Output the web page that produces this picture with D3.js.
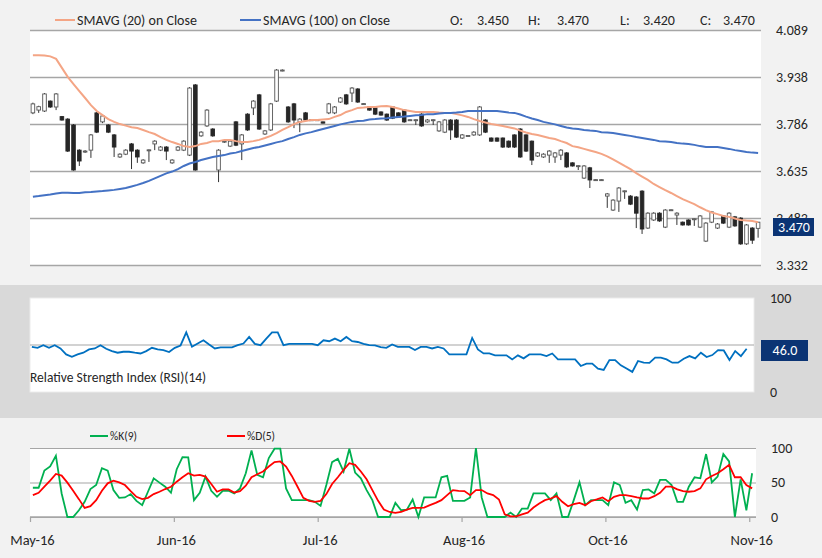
<!DOCTYPE html>
<html><head><meta charset="utf-8">
<script src="https://cdn.jsdelivr.net/npm/d3@7"></script>
<style>body{margin:0;background:#f2f2f2;} svg{display:block;font-family:Carlito,Calibri,Lato,sans-serif;}</style>
</head><body><svg id="c" width="822" height="558"></svg>
<script>
// ---------- DATA ----------
const open  = [3.822,3.831,3.828,3.860,3.841,3.810,3.802,3.783,3.702,3.696,3.702,3.822,3.793,3.783,3.751,3.680,3.689,3.722,3.702,3.661,
3.702,3.722,3.702,3.712,3.661,3.702,3.702,3.686,3.912,3.748,3.780,3.770,3.638,3.728,3.715,3.793,3.722,3.818,3.838,3.880,
3.754,3.767,3.860,3.958,3.841,3.851,3.793,3.822,3.799,3.799,3.793,3.822,3.822,3.857,3.880,3.886,3.899,3.851,3.841,3.838,
3.825,3.818,3.841,3.822,3.831,3.799,3.799,3.818,3.793,3.799,3.764,3.760,3.799,3.799,3.741,3.748,3.751,3.751,3.799,3.741,
3.741,3.741,3.731,3.751,3.770,3.751,3.731,3.683,3.680,3.686,3.680,3.686,3.693,3.661,3.651,3.612,3.645,3.606,3.606,3.554,
3.509,3.538,3.570,3.554,3.551,3.570,3.451,3.477,3.499,3.454,3.509,3.493,3.470,3.477,3.480,3.454,3.409,3.470,3.451,3.490,
3.454,3.487,3.483,3.400,3.451,3.450];
const high  = [3.855,3.845,3.886,3.862,3.886,3.812,3.805,3.786,3.705,3.702,3.754,3.825,3.815,3.786,3.754,3.692,3.705,3.725,3.705,3.673,
3.704,3.734,3.715,3.715,3.673,3.715,3.734,3.905,3.915,3.763,3.834,3.773,3.705,3.734,3.734,3.796,3.754,3.821,3.863,3.883,
3.767,3.854,3.963,3.962,3.844,3.854,3.805,3.825,3.801,3.801,3.794,3.854,3.844,3.873,3.883,3.905,3.902,3.853,3.843,3.840,
3.827,3.820,3.844,3.824,3.834,3.801,3.801,3.821,3.802,3.801,3.796,3.802,3.802,3.802,3.754,3.750,3.763,3.844,3.802,3.743,
3.743,3.743,3.733,3.753,3.773,3.753,3.733,3.696,3.692,3.702,3.696,3.705,3.696,3.663,3.653,3.654,3.648,3.608,3.608,3.564,
3.544,3.583,3.572,3.557,3.554,3.573,3.502,3.502,3.502,3.512,3.511,3.502,3.472,3.479,3.482,3.493,3.470,3.506,3.467,3.493,
3.502,3.490,3.486,3.464,3.454,3.470];
const low   = [3.818,3.822,3.825,3.838,3.831,3.797,3.696,3.636,3.651,3.693,3.677,3.757,3.789,3.757,3.680,3.677,3.686,3.641,3.661,3.658,
3.664,3.702,3.699,3.670,3.658,3.699,3.699,3.683,3.636,3.745,3.777,3.745,3.599,3.725,3.712,3.715,3.670,3.764,3.815,3.767,
3.751,3.764,3.857,3.956,3.790,3.773,3.760,3.796,3.798,3.798,3.788,3.818,3.818,3.854,3.848,3.857,3.854,3.850,3.829,3.815,
3.813,3.796,3.802,3.806,3.790,3.797,3.783,3.777,3.790,3.783,3.761,3.757,3.735,3.741,3.738,3.747,3.748,3.748,3.757,3.729,
3.729,3.709,3.709,3.709,3.677,3.696,3.654,3.680,3.677,3.661,3.661,3.670,3.645,3.649,3.638,3.609,3.580,3.604,3.604,3.516,
3.506,3.503,3.545,3.525,3.451,3.432,3.448,3.474,3.471,3.451,3.507,3.461,3.459,3.459,3.458,3.451,3.406,3.467,3.448,3.464,
3.451,3.455,3.397,3.397,3.400,3.420];
const close = [3.851,3.842,3.883,3.841,3.883,3.799,3.699,3.638,3.667,3.699,3.751,3.760,3.812,3.760,3.712,3.689,3.702,3.699,3.680,3.670,
3.703,3.731,3.712,3.699,3.670,3.712,3.731,3.902,3.638,3.760,3.831,3.748,3.702,3.731,3.731,3.718,3.751,3.767,3.860,3.770,
3.764,3.851,3.960,3.960,3.793,3.799,3.802,3.799,3.800,3.800,3.789,3.851,3.841,3.870,3.851,3.902,3.857,3.852,3.831,3.818,
3.815,3.799,3.805,3.809,3.793,3.800,3.800,3.780,3.799,3.800,3.793,3.799,3.767,3.744,3.751,3.749,3.760,3.841,3.760,3.731,
3.731,3.712,3.712,3.712,3.680,3.699,3.670,3.693,3.689,3.699,3.693,3.702,3.648,3.651,3.652,3.651,3.606,3.607,3.607,3.561,
3.541,3.580,3.571,3.528,3.499,3.448,3.499,3.499,3.474,3.509,3.510,3.499,3.461,3.461,3.481,3.490,3.467,3.503,3.464,3.467,
3.499,3.458,3.400,3.461,3.412,3.470];
const sma20 = [4.008,4.008,4.007,4.004,3.996,3.967,3.938,3.915,3.892,3.870,3.847,3.828,3.815,3.802,3.793,3.786,3.781,3.776,3.773,3.767,
3.760,3.754,3.744,3.735,3.728,3.722,3.715,3.712,3.715,3.722,3.725,3.731,3.731,3.735,3.735,3.731,3.728,3.728,3.731,3.735,
3.741,3.748,3.757,3.767,3.776,3.786,3.793,3.796,3.799,3.799,3.801,3.802,3.809,3.815,3.825,3.831,3.838,3.839,3.841,3.841,
3.843,3.844,3.841,3.836,3.831,3.828,3.825,3.825,3.825,3.825,3.823,3.822,3.822,3.818,3.814,3.809,3.802,3.796,3.791,3.786,
3.783,3.780,3.776,3.772,3.765,3.759,3.754,3.751,3.746,3.741,3.738,3.731,3.725,3.715,3.711,3.706,3.701,3.696,3.690,3.682,
3.672,3.662,3.651,3.641,3.628,3.617,3.606,3.593,3.583,3.573,3.564,3.554,3.544,3.536,3.528,3.518,3.509,3.501,3.496,3.490,
3.487,3.482,3.477,3.475,3.474,3.470];
const sma100 = [3.552,3.554,3.557,3.559,3.562,3.565,3.565,3.564,3.564,3.566,3.567,3.569,3.570,3.572,3.574,3.577,3.580,3.585,3.590,3.596,
3.603,3.611,3.619,3.627,3.633,3.641,3.651,3.659,3.664,3.670,3.675,3.680,3.683,3.686,3.691,3.694,3.699,3.704,3.709,3.712,
3.717,3.722,3.727,3.731,3.738,3.744,3.751,3.756,3.760,3.765,3.770,3.775,3.780,3.785,3.789,3.793,3.796,3.797,3.801,3.802,
3.804,3.805,3.807,3.809,3.810,3.812,3.814,3.815,3.818,3.818,3.820,3.822,3.822,3.823,3.825,3.828,3.828,3.828,3.828,3.828,
3.828,3.826,3.823,3.822,3.817,3.810,3.804,3.799,3.793,3.789,3.785,3.780,3.775,3.772,3.770,3.767,3.765,3.764,3.760,3.759,
3.757,3.754,3.751,3.748,3.744,3.741,3.738,3.735,3.731,3.730,3.728,3.725,3.723,3.722,3.719,3.715,3.712,3.712,3.712,3.709,
3.706,3.702,3.699,3.696,3.694,3.693];
const rsi = [48.1,47.0,49.8,47.0,49.8,46.3,40.0,37.5,40.0,41.8,45.3,46.3,49.8,46.0,43.5,41.8,42.8,42.8,41.8,41.0,
43.5,47.0,45.3,44.6,42.5,47.0,49.5,63.5,48.1,51.6,55.0,50.5,46.3,47.4,47.4,47.4,49.8,51.6,58.6,51.2,
49.8,56.8,63.5,63.5,49.8,51.2,51.2,51.2,51.2,51.2,49.8,55.0,54.0,56.8,54.0,58.6,54.0,53.2,51.2,49.8,
49.5,47.7,47.0,50.5,48.0,48.0,48.0,44.6,48.0,48.0,46.3,48.0,46.3,40.0,40.0,40.0,40.0,57.5,45.3,41.0,
41.0,39.0,39.0,39.0,34.7,39.0,35.8,40.0,40.0,40.0,38.2,41.0,34.7,34.7,34.7,34.7,27.7,30.2,30.2,24.9,
23.5,34.0,34.0,28.4,24.9,21.4,33.0,31.2,31.0,36.5,36.5,34.7,31.2,31.2,35.4,38.2,35.8,41.8,37.2,39.3,
44.6,44.2,34.0,43.5,38.2,46.0];
const stochK = [42.4,42.4,67.3,73.2,88.8,34.1,0,0,9.8,22.0,40.5,46.3,70.7,67.3,39.0,27.8,28.3,33.2,23.4,17.1,
36.6,56.1,49.8,43.9,35.1,69.3,86.8,86.3,24.4,35.1,58.5,38.0,29.3,38.0,38.0,34.1,41.5,63.4,96.6,61.0,
57.6,85.4,99.0,99.0,41.5,24.4,24.4,24.4,24.4,22.0,16.1,46.3,79.5,84.4,65.9,99.0,64.4,56.1,39.0,24.4,
0,0,0,20.5,9.8,10.7,25.4,0,28.3,28.3,28.3,57.6,59.5,23.4,23.4,23.4,28.3,100,28.3,0,
0,0,0,6.3,0,12.2,12.2,34.1,34.1,34.1,24.4,34.1,0,0,24.4,50.2,17.1,24.4,24.4,24.4,
17.1,50.2,46.3,20.5,24.4,10.7,39.0,40.0,34.1,53.7,53.7,46.3,22.0,22.0,43.9,57.6,56.1,91.2,50.2,58.5,
91.2,80.5,0,54.6,9.8,63.4];
const stochD = [31.7,35.1,43.9,52.7,62.4,60.0,49.8,38.0,25.9,13.2,15.6,24.4,38.0,48.8,52.7,50.2,46.3,37.6,29.3,25.9,
27.8,33.2,36.6,40.5,43.9,51.2,57.6,63.4,60.0,61.0,58.5,47.8,36.6,40.0,40.0,35.6,37.6,45.4,57.6,62.0,
65.9,73.2,79.5,80.5,73.2,59.5,43.9,27.8,23.4,22.0,23.4,33.2,47.8,57.6,68.3,78.0,75.6,65.9,54.6,39.0,
23.4,10.7,7.3,5.9,7.3,10.7,13.2,13.2,13.7,17.1,20.5,24.4,31.7,39.0,38.0,37.6,31.7,39.0,39.0,34.1,
31.7,25.4,3.9,1.0,1.0,3.9,6.3,13.7,19.5,24.4,26.8,30.2,22.0,15.6,18.5,20.5,17.1,22.9,25.4,28.3,
22.9,29.3,31.7,31.7,30.2,28.3,26.8,26.8,30.2,35.1,43.9,43.9,40.0,37.6,36.6,37.6,41.5,54.6,59.5,63.4,
69.3,75.6,57.6,57.6,46.3,41.5];
const priceTicks = [3.332,3.483,3.635,3.786,3.938,4.089];
const rsiTicks = [0,100];
const stochTicks = [0,50,100];
const xTickIndex = [0,25,50,75,100,125];
const xTickLabels = ["May-16","Jun-16","Jul-16","Aug-16","Oct-16","Nov-16"];
const lastOHLC = {O:"3.450",H:"3.470",L:"3.420",C:"3.470"};
const lastRSI = "46.0";

// ---------- DRAW ----------
const n = close.length;
const idx = d3.range(n);
const svg = d3.select('#c');
const txt = '#262626', grid = '#a6a6a6', navy = '#0b3474';
const FF = 'Carlito,Calibri,Lato,sans-serif';
svg.append('rect').attr('width',822).attr('height',558).attr('fill','#f2f2f2');
const defs = svg.append('defs');
// clip in the local space of the tick label (origin = tick position)
defs.append('clipPath').attr('id','tagclip').append('rect').attr('x',-20).attr('y',-40).attr('width',80).attr('height',40);

// ===== price panel =====
const xP = d3.scaleLinear().domain([0,n]).range([30,761]);
const yP = d3.scaleLinear().domain([3.332,4.089]).range([265,30]);
svg.append('rect').attr('x',30).attr('y',30).attr('width',731).attr('height',235).attr('fill','#fff');
const ay = svg.append('g').attr('transform','translate(761,0)')
  .call(d3.axisRight(yP).tickValues(priceTicks).tickFormat(d3.format('.3f')).tickSize(-731).tickPadding(15));
ay.select('.domain').remove();
ay.selectAll('line').attr('stroke',grid).attr('stroke-width',1.5);
ay.selectAll('text').attr('fill',txt).attr('font-size',14).attr('font-family',FF);
// the label partly hidden behind the last-price tag, as in the reference
ay.selectAll('.tick').filter(d=>d===3.483).select('text').attr('clip-path','url(#tagclip)');

const bw = 3.6;
const cg = svg.append('g');
idx.forEach(i=>{
  const cx = xP(i+0.5);
  const up = close[i] >= open[i];
  cg.append('line').attr('x1',cx).attr('x2',cx).attr('y1',yP(high[i])).attr('y2',yP(low[i]))
    .attr('stroke','#333').attr('stroke-width',1);
  const y1 = yP(Math.max(open[i],close[i])), y2 = yP(Math.min(open[i],close[i]));
  cg.append('rect').attr('x',cx-bw/2).attr('y',y1).attr('width',bw).attr('height',Math.max(1,y2-y1))
    .attr('fill', up ? '#fff' : '#262626').attr('stroke', up ? '#555' : '#262626').attr('stroke-width',0.9);
});
const lineP = arr => d3.line().x((d,i)=>xP(i+0.5)).y(d=>yP(d))(arr);
svg.append('path').attr('d',lineP(sma20)).attr('fill','none').attr('stroke','#f4a585').attr('stroke-width',2);
svg.append('path').attr('d',lineP(sma100)).attr('fill','none').attr('stroke','#4472c4').attr('stroke-width',2);

// price tag
svg.append('rect').attr('x',773).attr('y',218).attr('width',41).attr('height',18).attr('fill',navy);
svg.append('text').attr('x',794).attr('y',227).attr('dy','0.35em').attr('text-anchor','middle')
  .attr('fill','#fff').attr('font-size',14).text(close[n-1].toFixed(3));

// legend
const lg = svg.append('g').attr('font-size',14).attr('fill',txt);
lg.append('line').attr('x1',55).attr('x2',75).attr('y1',20).attr('y2',20).attr('stroke','#f4a585').attr('stroke-width',2);
lg.append('text').attr('x',77).attr('y',20).attr('dy','0.35em').text('SMAVG (20) on Close');
lg.append('line').attr('x1',240).attr('x2',261).attr('y1',20).attr('y2',20).attr('stroke','#4472c4').attr('stroke-width',2);
lg.append('text').attr('x',263).attr('y',20).attr('dy','0.35em').text('SMAVG (100) on Close');
[['O:',450,lastOHLC.O,477],['H:',528,lastOHLC.H,557],['L:',620,lastOHLC.L,643],['C:',700,lastOHLC.C,723]].forEach(d=>{
  lg.append('text').attr('x',d[1]).attr('y',20).attr('dy','0.35em').text(d[0]);
  lg.append('text').attr('x',d[3]).attr('y',20).attr('dy','0.35em').text(d[2]);
});

// ===== RSI panel =====
svg.append('rect').attr('x',0).attr('y',285).attr('width',822).attr('height',133).attr('fill','#d9d9d9');
svg.append('rect').attr('x',30).attr('y',298).attr('width',724).attr('height',94).attr('fill','#fff').attr('stroke','#ececec');
const xR = d3.scaleLinear().domain([0,n]).range([29,749.5]);
const yR = d3.scaleLinear().domain([0,100]).range([392,298]);
svg.append('line').attr('x1',30).attr('x2',754).attr('y1',yR(50)).attr('y2',yR(50)).attr('stroke',grid).attr('stroke-width',1.2);
svg.append('path').attr('d',d3.line().x((d,i)=>xR(i+0.5)).y(d=>yR(d))(rsi)).attr('fill','none').attr('stroke','#0070c0').attr('stroke-width',1.8);
const ar = svg.append('g').attr('transform','translate(754,0)').call(d3.axisRight(yR).tickValues(rsiTicks).tickSize(0).tickPadding(16));
ar.select('.domain').remove();
ar.selectAll('text').attr('fill',txt).attr('font-size',14).attr('font-family',FF);
svg.append('rect').attr('x',761).attr('y',340).attr('width',47).attr('height',21).attr('fill',navy);
svg.append('text').attr('x',785).attr('y',350.5).attr('dy','0.35em').attr('text-anchor','middle').attr('fill','#fff').attr('font-size',14).text(lastRSI);
svg.append('text').attr('x',30).attr('y',377).attr('dy','0.35em').attr('fill',txt).attr('font-size',13.5).text('Relative Strength Index (RSI)(14)');

// ===== Stochastic panel =====
const xS = d3.scaleLinear().domain([0,n]).range([30,755]);
const yS = d3.scaleLinear().domain([0,100]).range([517,448]);
svg.append('rect').attr('x',30).attr('y',448).attr('width',726).attr('height',69).attr('fill','#fff');
const as = svg.append('g').attr('transform','translate(756,0)')
  .call(d3.axisRight(yS).tickValues(stochTicks).tickSize(-726).tickPadding(15));
as.select('.domain').remove();
as.selectAll('line').attr('stroke',grid).attr('stroke-width',1.2);
as.selectAll('text').attr('fill',txt).attr('font-size',14).attr('font-family',FF);
const ax = svg.append('g').attr('transform','translate(0,517)')
  .call(d3.axisBottom(xS).tickValues(xTickIndex).tickFormat((d,i)=>xTickLabels[i]).tickSize(5).tickPadding(13));
ax.select('.domain').remove();
ax.selectAll('line').attr('stroke',grid).attr('stroke-width',1.2);
ax.selectAll('text').attr('fill',txt).attr('font-size',14.5).attr('dx',2).attr('font-family',FF);
svg.append('line').attr('x1',30).attr('x2',756).attr('y1',517).attr('y2',517).attr('stroke',grid).attr('stroke-width',1.5);
const lineS = arr => d3.line().x((d,i)=>xS(i+0.5)).y(d=>yS(d))(arr);
svg.append('path').attr('d',lineS(stochK)).attr('fill','none').attr('stroke','#00b050').attr('stroke-width',1.8);
svg.append('path').attr('d',lineS(stochD)).attr('fill','none').attr('stroke','#ff0000').attr('stroke-width',1.8);
const sl = svg.append('g').attr('font-size',11.5).attr('fill',txt);
sl.append('line').attr('x1',90).attr('x2',108).attr('y1',436).attr('y2',436).attr('stroke','#00b050').attr('stroke-width',2);
sl.append('text').attr('x',110).attr('y',436).attr('dy','0.35em').text('%K(9)');
sl.append('line').attr('x1',227).attr('x2',245).attr('y1',436).attr('y2',436).attr('stroke','#ff0000').attr('stroke-width',2);
sl.append('text').attr('x',247).attr('y',436).attr('dy','0.35em').text('%D(5)');
</script></body></html>
